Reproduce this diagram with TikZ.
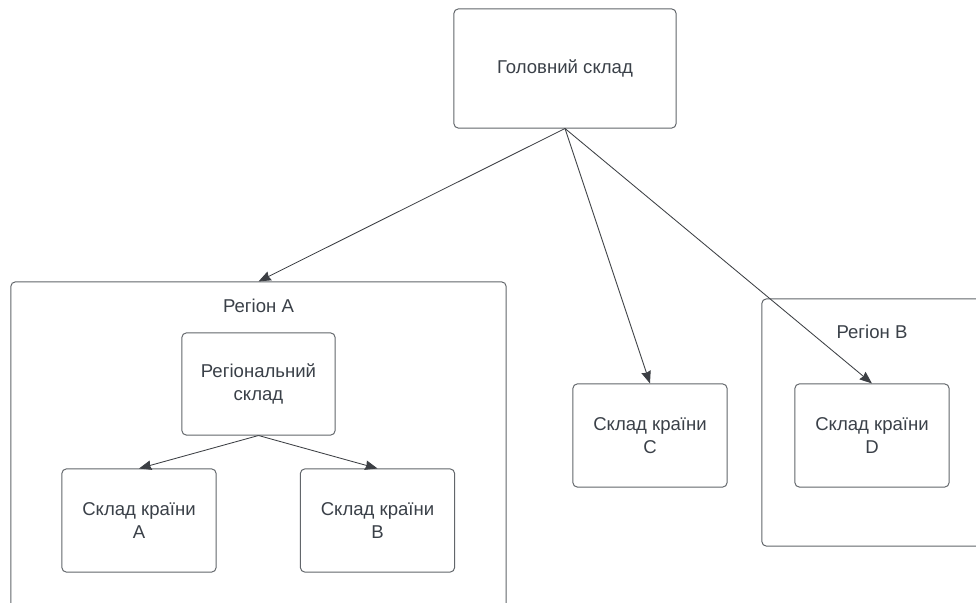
\documentclass[tikz,border=0pt]{standalone}
\usepackage{fontspec}
\setmainfont{Liberation Sans}
\usepackage{xcolor}
\usetikzlibrary{arrows.meta, positioning, backgrounds}
\definecolor{lineg}{HTML}{62666B}
\definecolor{txtg}{HTML}{3A4048}
\definecolor{arrg}{HTML}{3C3F44}
\tikzset{every node/.append style={align=center, inner sep=3pt}}

\begin{document}
\begin{tikzpicture}[
    x=0.025cm, y=-0.025cm,
    font=\fontsize{13.2}{16.4}\selectfont, text=txtg,
    sklad/.style={rectangle, rounded corners=3pt, draw=lineg, line width=0.7pt,
        minimum width=3.85cm, minimum height=2.575cm},
    region/.style={rectangle, rounded corners=3pt, draw=lineg, line width=0.7pt},
    a/.style={-{Stealth[length=3.1mm, width=2.4mm, inset=0.3mm]}, line width=0.6pt, arrg},
    rlab/.style={anchor=center}
]
\fill[white] (0,0) rectangle (976,603);
\useasboundingbox (0,0) rectangle (976,603);
\clip (0,0) rectangle (976,603);
% ===== ГОЛОВНИЙ СКЛАД =====
\node[sklad, minimum width=5.55cm, minimum height=2.975cm] (main) at (565,68.5) {Головний склад};
% ===== РЕГІОН A =====
\node[region, minimum width=12.375cm, minimum height=8.5cm] (regA) at (258.5,452) {};
\node[rlab] (labA) at (258.5,306) {Регіон A};
\node[sklad, minimum width=3.825cm, minimum height=2.55cm] (regsk) at (258.5,384) {Регіональний\\склад};
\node[sklad] (cA) at (139,520.5) {Склад країни\\A};
\node[sklad] (cB) at (377.5,520.5) {Склад країни\\B};
% ===== КРАЇНА C =====
\node[sklad] (cC) at (650,435.5) {Склад країни\\C};
% ===== РЕГІОН B =====
\node[region, minimum width=5.5cm, minimum height=6.175cm] (regB) at (872,422.5) {};
\node[rlab] (labB) at (872,332) {Регіон B};
\node[sklad] (cD) at (872,435.5) {Склад країни\\D};
% ===== ЗВ'ЯЗКИ =====
\draw[a] (main.south) -- (regA.north);
\draw[a] (main.south) -- (cC.north);
\draw[a] (main.south) -- (cD.north);
\draw[a] (regsk.south) -- (cA.north);
\draw[a] (regsk.south) -- (cB.north);
\end{tikzpicture}
\end{document}
